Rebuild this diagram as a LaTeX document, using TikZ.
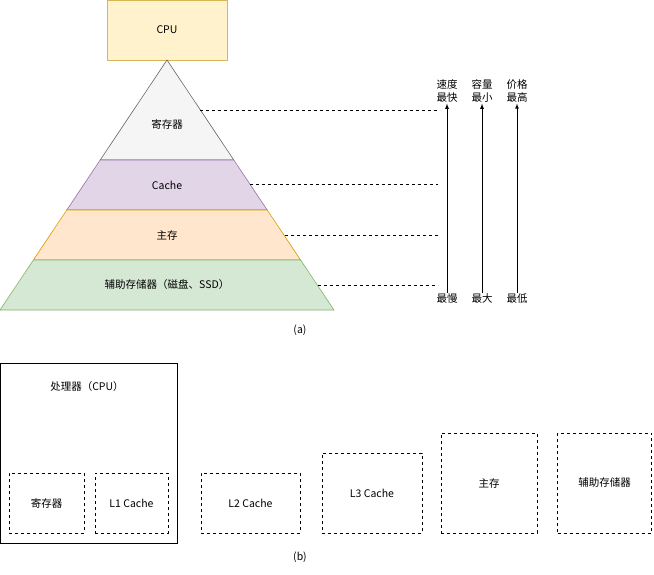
\documentclass[tikz,border=0pt]{standalone}
\usepackage{fontspec}
\setmainfont{Noto Sans CJK SC}
\usetikzlibrary{positioning,calc}
\definecolor{cpuF}{HTML}{FFF2CC}\definecolor{cpuD}{HTML}{D6B656}
\definecolor{regF}{HTML}{F5F5F5}\definecolor{regD}{HTML}{666666}
\definecolor{cacF}{HTML}{E1D5E7}\definecolor{cacD}{HTML}{9673A6}
\definecolor{memF}{HTML}{FFE6CC}\definecolor{memD}{HTML}{D79B00}
\definecolor{auxF}{HTML}{D5E8D4}\definecolor{auxD}{HTML}{82B366}
\tikzset{
  lbl/.style={font=\fontsize{10.5}{13}\selectfont, align=center, inner sep=1pt},
  lvl/.style={draw=#1, line width=0.6pt},
  guide/.style={dashed, line width=0.6pt},
  up/.style={-latex, line width=0.8pt},
  part/.style={draw, dashed, line width=0.6pt, font=\fontsize{10.5}{13}\selectfont}
}
\begin{document}
\begin{tikzpicture}[x=1pt,y=-1pt]
    \useasboundingbox (0,0) rectangle (654,574);
    % (a) pyramid
    \node[draw=cpuD, fill=cpuF, minimum width=120pt, minimum height=60pt, lbl] (cpu) at (167,30) {CPU};
    \filldraw[lvl=regD, fill=regF] (167,60) -- (233.8,160) -- (100.2,160) -- cycle;
    \filldraw[lvl=cacD, fill=cacF] (100.2,160) -- (233.8,160) -- (267.2,210) -- (66.8,210) -- cycle;
    \filldraw[lvl=memD, fill=memF] (66.8,210) -- (267.2,210) -- (300.6,260) -- (33.4,260) -- cycle;
    \filldraw[lvl=auxD, fill=auxF] (33.4,260) -- (300.6,260) -- (334,310) -- (0,310) -- cycle;
    \node[lbl] (reg) at (167,124) {寄存器};
    \node[lbl] (cac) at (167,185) {Cache};
    \node[lbl] (mem) at (167,235) {主存};
    \node[lbl] (aux) at (167,285) {辅助存储器（磁盘、SSD）};
    \coordinate (r0) at (200,110); \coordinate (r1) at (440,110);
    \coordinate (c0) at (250,184); \coordinate (c1) at (438,184);
    \coordinate (m0) at (285,235); \coordinate (m1) at (438,235);
    \coordinate (a0) at (318,285); \coordinate (a1) at (438,285);
    \draw[guide] (r0) -- (r1);
    \draw[guide] (c0) -- (c1);
    \draw[guide] (m0) -- (m1);
    \draw[guide] (a0) -- (a1);
    \foreach \x/\top/\bot [count=\i] in {447/速度\\最快/最慢, 482/容量\\最小/最大, 517/价格\\最高/最低}{
      \node[lbl] (t\i) at (\x,91) {\top};
      \node[lbl] (b\i) at (\x,299) {\bot};
      \draw[up] (b\i.north) -- (t\i.south);
    }
    \node[lbl] (capa) at (300,330) {(a)};
    % (b) boxes
    \node[draw, line width=0.6pt, minimum width=177pt, minimum height=180pt] (proc) at (89,453) {};
    \node[lbl] (procl) at (87,387) {处理器（CPU）};
    \node[part, minimum width=75pt, minimum height=60pt] (breg) at (46.5,503) {寄存器};
    \node[part, minimum width=73pt, minimum height=60pt] (l1) at (131.5,503) {L1 Cache};
    \node[part, minimum width=99pt, minimum height=60pt] (l2) at (250.5,503) {L2 Cache};
    \node[part, minimum width=100pt, minimum height=80pt] (l3) at (372,493) {L3 Cache};
    \node[part, minimum width=96pt, minimum height=100pt] (bmem) at (489,483) {主存};
    \node[part, minimum width=94pt, minimum height=100pt] (baux) at (604.5,483) {辅助存储器};
    \node[lbl] (capb) at (300,557) {(b)};
\end{tikzpicture}
\end{document}
